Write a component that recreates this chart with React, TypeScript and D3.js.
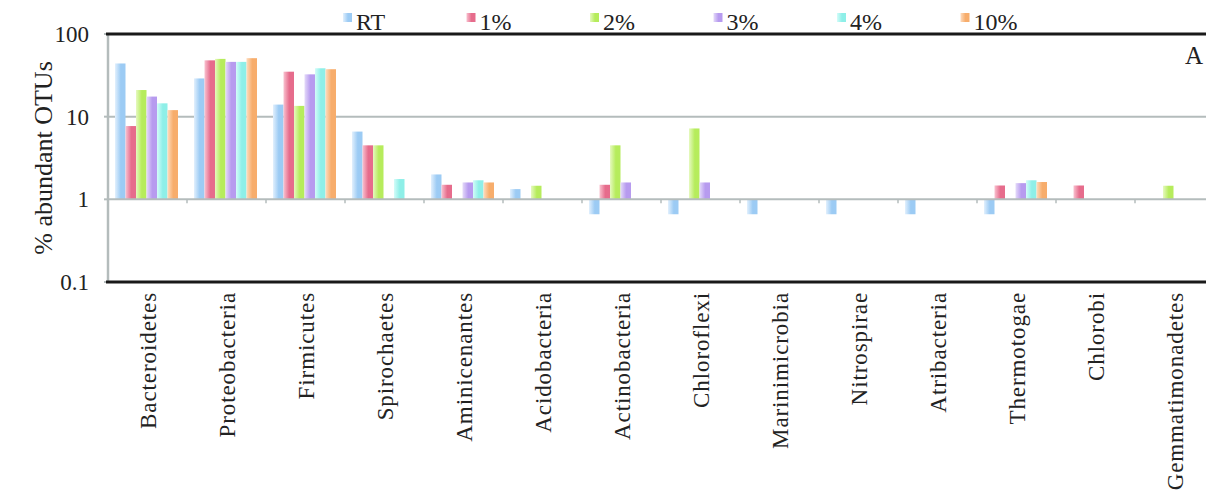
import { useEffect, useRef } from "react";
import * as d3 from "d3";

const categories = [
  "Bacteroidetes",
  "Proteobacteria",
  "Firmicutes",
  "Spirochaetes",
  "Aminicenantes",
  "Acidobacteria",
  "Actinobacteria",
  "Chloroflexi",
  "Marinimicrobia",
  "Nitrospirae",
  "Atribacteria",
  "Thermotogae",
  "Chlorobi",
  "Gemmatimonadetes",
];

const seriesNames = ["RT", "1%", "2%", "3%", "4%", "10%"];

// null = no bar
const rt = [44, 29, 14, 6.6, 2.0, 1.33, 0.66, 0.66, 0.66, 0.66, 0.66, 0.66, null, null];
const p1 = [7.7, 48, 35, 4.5, 1.5, null, 1.5, null, null, null, null, 1.47, 1.47, null];
const p2 = [21, 50, 13.5, 4.5, null, 1.46, 4.5, 7.2, null, null, null, null, null, 1.46];
const p3 = [17.5, 46, 32.5, null, 1.6, null, 1.6, 1.6, null, null, null, 1.57, null, null];
const p4 = [14.5, 46, 38.5, 1.76, 1.7, null, null, null, null, null, null, 1.7, null, null];
const p10 = [12, 51, 37.5, null, 1.6, null, null, null, null, null, null, 1.62, null, null];

const yTicks = [0.1, 1, 10, 100];

const colors = ["#9ccbf4", "#e66c8c", "#b6ec5c", "#b79bef", "#8eefe8", "#f7ad6c"];
const lights = ["#e2f0fd", "#f9c2d0", "#e6f9c0", "#e4daf9", "#d4fcf9", "#fddcbf"];

export default function App() {
  const ref = useRef<SVGSVGElement>(null);

  useEffect(() => {
    const svg = d3.select(ref.current);
    svg.selectAll("*").remove();

    const width = 1206;
    const height = 496;
    const margin = { top: 34, right: -8, bottom: 214, left: 108 };
    const font = "'Liberation Serif', 'Times New Roman', serif";

    const values = [rt, p1, p2, p3, p4, p10];

    const defs = svg.append("defs");
    colors.forEach((c, i) => {
      const g = defs
        .append("linearGradient")
        .attr("id", `grad${i}`)
        .attr("x1", "0")
        .attr("x2", "1")
        .attr("y1", "0")
        .attr("y2", "0");
      g.append("stop").attr("offset", "0%").attr("stop-color", lights[i]);
      g.append("stop").attr("offset", "55%").attr("stop-color", c);
      g.append("stop").attr("offset", "100%").attr("stop-color", c);
    });

    const x = d3
      .scaleBand()
      .domain(categories)
      .range([margin.left, width - margin.right])
      .paddingInner(0)
      .paddingOuter(0);

    const x1 = d3
      .scaleBand()
      .domain(seriesNames)
      .range([7, 7 + 63])
      .padding(0);

    const y = d3
      .scaleLog()
      .domain([0.1, 100])
      .range([height - margin.bottom, margin.top]);

    // gridline
    svg
      .append("g")
      .selectAll("line")
      .data([10])
      .join("line")
      .attr("x1", margin.left)
      .attr("x2", width)
      .attr("y1", (d) => y(d))
      .attr("y2", (d) => y(d))
      .attr("stroke", "#b4bcbc")
      .attr("stroke-width", 2);

    // bars
    const groups = svg
      .append("g")
      .selectAll("g")
      .data(categories)
      .join("g")
      .attr("transform", (d) => `translate(${x(d)},0)`);

    groups
      .selectAll("rect")
      .data((_, ci) =>
        seriesNames.map((s, si) => ({ s, si, v: values[si][ci] })).filter((d) => d.v != null)
      )
      .join("rect")
      .attr("x", (d) => x1(d.s)!)
      .attr("width", x1.bandwidth())
      .attr("y", (d) => Math.min(y(d.v as number), y(1)))
      .attr("height", (d) => Math.abs(y(d.v as number) - y(1)))
      .attr("fill", (d) => `url(#grad${d.si})`);

    // x axis crossing at 1
    svg
      .append("line")
      .attr("x1", margin.left)
      .attr("x2", width)
      .attr("y1", y(1))
      .attr("y2", y(1))
      .attr("stroke", "#b4bcbc")
      .attr("stroke-width", 2);

    svg
      .append("g")
      .selectAll("line")
      .data(categories.slice(1))
      .join("line")
      .attr("x1", (d) => x(d)!)
      .attr("x2", (d) => x(d)!)
      .attr("y1", y(1))
      .attr("y2", y(1) + 4)
      .attr("stroke", "#b4bcbc")
      .attr("stroke-width", 1.5);

    // left axis
    svg
      .append("line")
      .attr("x1", margin.left)
      .attr("x2", margin.left)
      .attr("y1", y(100))
      .attr("y2", y(0.1))
      .attr("stroke", "#b4bcbc")
      .attr("stroke-width", 2.5);

    svg
      .append("g")
      .selectAll("line")
      .data(yTicks)
      .join("line")
      .attr("x1", margin.left - 4)
      .attr("x2", margin.left)
      .attr("y1", (d) => y(d))
      .attr("y2", (d) => y(d))
      .attr("stroke", "#b4bcbc")
      .attr("stroke-width", 2);

    // top and bottom black frame lines
    svg
      .append("g")
      .selectAll("line")
      .data([100, 0.1])
      .join("line")
      .attr("x1", margin.left - 2)
      .attr("x2", width)
      .attr("y1", (d) => y(d))
      .attr("y2", (d) => y(d))
      .attr("stroke", "#1a1a1a")
      .attr("stroke-width", 3);

    // y tick labels
    svg
      .append("g")
      .selectAll("text")
      .data(yTicks)
      .join("text")
      .attr("x", 89)
      .attr("y", (d) => y(d) + 8)
      .attr("text-anchor", "end")
      .attr("font-family", font)
      .attr("font-size", 23)
      .attr("fill", "#222")
      .text((d) => (d === 0.1 ? "0.1" : String(d)));

    svg
      .append("text")
      .attr("transform", `translate(52,${(y(100) + y(0.1)) / 2}) rotate(-90)`)
      .attr("text-anchor", "middle")
      .attr("font-family", font)
      .attr("font-size", 26)
      .attr("fill", "#222")
      .text("% abundant OTUs");

    // category labels
    svg
      .append("g")
      .selectAll("text")
      .data(categories)
      .join("text")
      .attr("transform", (d) => `translate(${x(d)! + x.bandwidth() / 2 + 8},${y(0.1) + 10}) rotate(-90)`)
      .attr("text-anchor", "end")
      .attr("font-family", font)
      .attr("font-size", 23)
      .attr("letter-spacing", 0.9)
      .attr("fill", "#222")
      .text((d) => d);

    // legend
    const legend = svg
      .append("g")
      .selectAll("g")
      .data(seriesNames)
      .join("g")
      .attr("transform", (_, i) => `translate(${343 + i * 123.5},0)`);

    legend
      .append("rect")
      .attr("x", 0)
      .attr("y", 13)
      .attr("width", 9)
      .attr("height", 9)
      .attr("fill", (_, i) => `url(#grad${i})`);

    legend
      .append("text")
      .attr("x", 13)
      .attr("y", 30)
      .attr("font-family", font)
      .attr("font-size", 24)
      .attr("fill", "#222")
      .text((d) => d);

    svg
      .append("text")
      .attr("x", 1203)
      .attr("y", 64)
      .attr("text-anchor", "end")
      .attr("font-family", font)
      .attr("font-size", 25)
      .attr("fill", "#222")
      .text("A");
  }, []);

  return (
    <svg
      ref={ref}
      width={1206}
      height={496}
      style={{ position: "absolute", left: 0, top: 0, background: "#fff" }}
    ></svg>
  );
}
